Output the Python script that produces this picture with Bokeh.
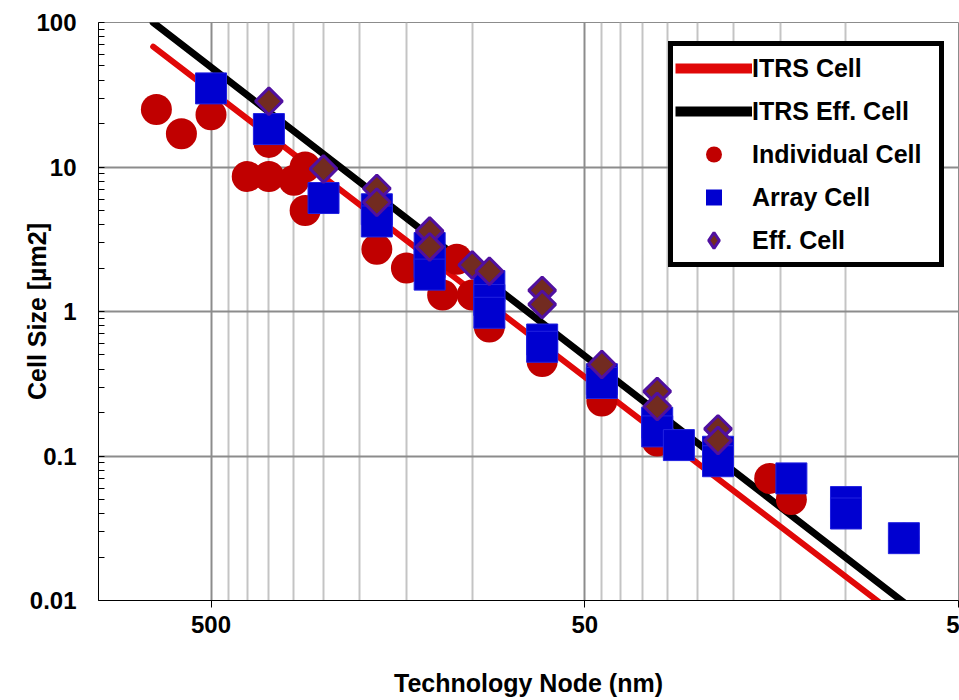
import numpy as np
from bokeh.plotting import figure
from bokeh.models import (Range1d, FixedTicker, CustomJSTickFormatter, Legend, LegendItem)
from bokeh.embed import file_html
from bokeh.resources import INLINE

# ---- data ----
itrs_node = [714, 7.0]
itrs_cell = [68, 0.0072]
itrs_eff_node = [714, 6.2]
itrs_eff_cell = [100, 0.0076]

circle_node = [700, 600, 500, 400, 350, 350, 300, 280, 280, 180, 150, 120, 110, 100, 90,
               65, 45, 32, 16, 14, 10, 7]
circle_val = [25, 17, 23, 8.6, 14.8, 8.6, 8.1, 10, 5.0, 2.7, 2.0, 1.3, 2.3, 1.3, 0.78,
              0.45, 0.24, 0.127, 0.07, 0.05, 0.045, 0.027]

square_node = [500, 350, 250, 180, 180, 130, 130, 130, 90, 90, 90, 65, 65, 45, 45,
               32, 32, 28, 22, 22, 14, 10, 10, 7]
square_val = [35, 18.3, 6.1, 5.1, 4.2, 2.75, 2.2, 1.8, 1.5, 1.2, 0.98, 0.64, 0.57, 0.34, 0.32,
              0.17, 0.148, 0.119, 0.107, 0.092, 0.07, 0.048, 0.040, 0.027]

diamond_node = [350, 250, 180, 180, 130, 130, 100, 90, 65, 65, 45, 32, 32, 22, 22]
diamond_val = [28.5, 9.7, 7.1, 5.7, 3.6, 2.8, 2.1, 1.9, 1.4, 1.12, 0.43, 0.28, 0.22, 0.154, 0.128]

x_major = [5, 50, 500]
x_minor = [10, 15, 20, 25, 30, 35, 40, 45, 100, 150, 200, 250, 300, 350, 400, 450, 1000]
y_major = [0.01, 0.1, 1, 10, 100]
y_minor = [m * d for d in (0.01, 0.1, 1, 10) for m in range(2, 10)]

FONT = "Liberation Sans"
RED_LINE = "#E00808"
RED_DOT = "#C00000"
BLUE = "#0000D0"
BROWN = "#722B20"
PURPLE = "#5010A0"

p = figure(width=959, height=700, x_axis_type="log", y_axis_type="log",
           x_range=Range1d(1000, 5), y_range=Range1d(0.01, 100),
           output_backend="svg", toolbar_location=None,
           min_border_left=98, min_border_right=1, min_border_top=22, min_border_bottom=100)
p.background_fill_color = "white"
p.border_fill_color = "white"
p.outline_line_color = "#8c8c8c"
p.outline_line_width = 1

fmt = CustomJSTickFormatter(code="return String(Number(tick.toPrecision(6)));")

# x axis
p.xaxis.ticker = FixedTicker(ticks=x_major, minor_ticks=x_minor)
p.xaxis.formatter = fmt
p.xaxis.major_tick_out = 7
p.xaxis.major_tick_in = 0
p.xaxis.minor_tick_out = 0
p.xaxis.minor_tick_in = 0
p.xaxis.axis_line_color = "black"
p.xaxis.major_tick_line_color = "black"
p.xaxis.major_label_standoff = 8
p.xaxis.major_label_text_font = FONT
p.xaxis.major_label_text_font_style = "bold"
p.xaxis.major_label_text_font_size = "24px"
p.xaxis.major_label_text_color = "black"
p.xaxis.axis_label = "Technology Node (nm)"
p.xaxis.axis_label_standoff = 33
p.xaxis.axis_label_text_font = FONT
p.xaxis.axis_label_text_font_style = "bold"
p.xaxis.axis_label_text_font_size = "25px"
p.xaxis.axis_label_text_color = "black"

# y axis
p.yaxis.ticker = FixedTicker(ticks=y_major, minor_ticks=y_minor)
p.yaxis.formatter = fmt
p.yaxis.major_tick_out = 0
p.yaxis.major_tick_in = 6
p.yaxis.minor_tick_out = 0
p.yaxis.minor_tick_in = 6
p.yaxis.axis_line_color = "black"
p.yaxis.major_tick_line_color = "black"
p.yaxis.minor_tick_line_color = "black"
p.yaxis.major_label_standoff = 22
p.yaxis.major_label_text_font = FONT
p.yaxis.major_label_text_font_style = "bold"
p.yaxis.major_label_text_font_size = "24px"
p.yaxis.major_label_text_color = "black"
p.yaxis.axis_label = "Cell Size [µm2]"
p.yaxis.axis_label_standoff = -24
p.yaxis.axis_label_text_font = FONT
p.yaxis.axis_label_text_font_style = "bold"
p.yaxis.axis_label_text_font_size = "25px"
p.yaxis.axis_label_text_color = "black"

# grids
p.xgrid.grid_line_color = "#8c8c8c"
p.xgrid.grid_line_width = 2
p.xgrid.minor_grid_line_color = "#c4c4c4"
p.xgrid.minor_grid_line_width = 2
p.ygrid.grid_line_color = "#8c8c8c"
p.ygrid.grid_line_width = 2
p.ygrid.minor_grid_line_color = None

# lines
p.line(itrs_node, itrs_cell, line_color=RED_LINE, line_width=6, line_cap="round")
p.line(itrs_eff_node, itrs_eff_cell, line_color="black", line_width=7, line_cap="round")

# markers
p.scatter(circle_node, circle_val, marker="circle", size=31,
          fill_color=RED_DOT, line_color=RED_DOT, line_width=0)
p.scatter(square_node, square_val, marker="square", size=31,
          fill_color=BLUE, line_color="#2222E0", line_width=1)
p.scatter(diamond_node, diamond_val, marker="square", size=19, angle=np.pi / 4,
          fill_color=BROWN, line_color=PURPLE, line_width=3)

# legend-only renderers (no data drawn)
nan = [float("nan")]
lg_itrs = p.line(nan, nan, line_color=RED_LINE, line_width=10, line_cap="butt")
lg_eff = p.line(nan, nan, line_color="black", line_width=10, line_cap="butt")
lg_circ = p.scatter(nan, nan, marker="circle", fill_color=RED_DOT, line_color=RED_DOT, line_width=0)
lg_sq = p.scatter(nan, nan, marker="square", fill_color=BLUE, line_color=BLUE, line_width=0)
lg_dia = p.scatter(nan, nan, marker="diamond", fill_color=BROWN, line_color=PURPLE, line_width=3)

legend = Legend(items=[
    LegendItem(label="ITRS Cell", renderers=[lg_itrs]),
    LegendItem(label="ITRS Eff. Cell", renderers=[lg_eff]),
    LegendItem(label="Individual Cell", renderers=[lg_circ]),
    LegendItem(label="Array Cell", renderers=[lg_sq]),
    LegendItem(label="Eff. Cell", renderers=[lg_dia]),
], location=(570, 333))
legend.border_line_color = "black"
legend.border_line_alpha = 1
legend.border_line_width = 5
legend.background_fill_color = "white"
legend.background_fill_alpha = 1
legend.padding = 2
legend.spacing = 3
legend.glyph_height = 40
legend.glyph_width = 77
legend.label_standoff = 0
legend.label_width = 185
legend.label_height = 40
legend.margin = 0
legend.label_text_font = FONT
legend.label_text_font_style = "bold"
legend.label_text_font_size = "25px"
legend.label_text_color = "black"
p.add_layout(legend)

open("out.html", "w").write(file_html(p, INLINE))
